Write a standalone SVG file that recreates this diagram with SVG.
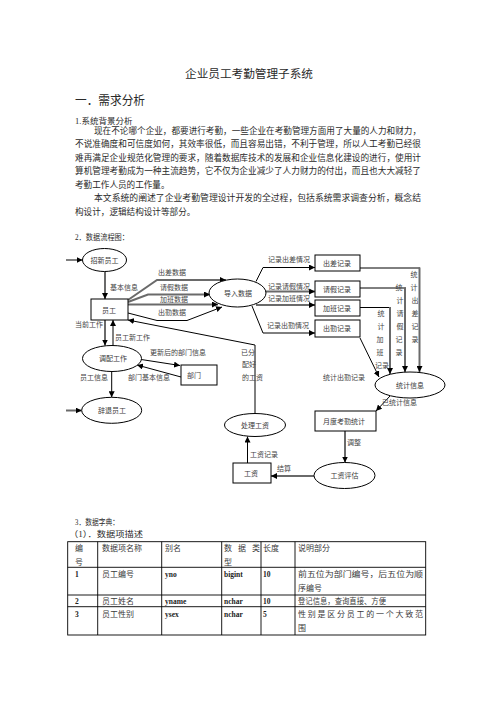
<svg xmlns="http://www.w3.org/2000/svg" width="496" height="702" viewBox="0 0 496 702">
<style>
text{font-family:"Liberation Serif","Noto Sans CJK SC",serif;fill:#2a2a2a}
.b{font-size:8.6px}
.n{font-size:7px;fill:#3a3a3a;text-anchor:middle}
.l{font-size:7px;fill:#444}
.v{font-size:7px;fill:#444;text-anchor:middle}
.t{font-size:8px;fill:#3a3a3a}
.tb{font-size:7.5px;font-weight:bold;fill:#222}
.s{fill:#fff;stroke:#000;stroke-width:1}
.k{fill:none;stroke:#000;stroke-width:1}
.g{fill:none;stroke:#6a6a6a;stroke-width:2}
.tl{stroke:#000;stroke-width:0.9;fill:none}
</style>
<defs>
<marker id="a" markerUnits="userSpaceOnUse" markerWidth="6" markerHeight="6" refX="6" refY="3" orient="auto">
<path d="M0,0 L6,3 L0,6 z" fill="#000"/>
</marker>
</defs>
<rect width="496" height="702" fill="#fff"/>

<text x="249" y="78" style="font-size:11.5px;text-anchor:middle" textLength="128" lengthAdjust="spacingAndGlyphs">企业员工考勤管理子系统</text>
<text x="75" y="104.5" style="font-size:12.5px" textLength="70" lengthAdjust="spacingAndGlyphs">一．需求分析</text>
<text x="75" y="123.5" style="font-size:8.5px">1.系统背景分析</text>
<text class="b" x="94" y="133.5" textLength="327" lengthAdjust="spacingAndGlyphs">现在不论哪个企业，都要进行考勤，一些企业在考勤管理方面用了大量的人力和财力，</text>
<text class="b" x="75" y="147" textLength="346" lengthAdjust="spacingAndGlyphs">不说准确度和可信度如何，其效率很低，而且容易出错，不利于管理，所以人工考勤已经很</text>
<text class="b" x="75" y="160.5" textLength="346" lengthAdjust="spacingAndGlyphs">难再满足企业规范化管理的要求，随着数据库技术的发展和企业信息化建设的进行，使用计</text>
<text class="b" x="75" y="174" textLength="346" lengthAdjust="spacingAndGlyphs">算机管理考勤成为一种主流趋势，它不仅为企业减少了人力财力的付出，而且也大大减轻了</text>
<text class="b" x="75" y="187.5">考勤工作人员的工作量。</text>
<text class="b" x="94" y="201" textLength="327" lengthAdjust="spacingAndGlyphs">本文系统的阐述了企业考勤管理设计开发的全过程，包括系统需求调查分析，概念结</text>
<text class="b" x="75" y="214.5">构设计，逻辑结构设计等部分。</text>
<text x="75" y="239.5" style="font-size:8.5px" textLength="54" lengthAdjust="spacingAndGlyphs">2．数据流程图：</text>

<g id="connectors">
<line class="k" x1="66" y1="260" x2="82.5" y2="260" marker-end="url(#a)"/>
<line class="g" x1="105" y1="271.5" x2="105" y2="299" marker-end="url(#a)"/>
<polyline class="g" points="128,300 157,280 226,280" marker-end="url(#a)"/>
<polyline class="g" points="128,302 148,294.5 210,294.5" marker-end="url(#a)"/>
<polyline class="g" points="128,304.5 218,304.5" marker-end="url(#a)"/>
<polyline class="k" points="128,313 157,320.5 187,320.5 222,307" marker-end="url(#a)"/>
<polyline class="k" points="256,281.5 263,267.5 315,267.5" marker-end="url(#a)"/>
<polyline class="g" points="265,291.5 315,291.5" marker-end="url(#a)"/>
<polyline class="g" points="256,305 315,305" marker-end="url(#a)"/>
<polyline class="k" points="252,306 263,333 315,333" marker-end="url(#a)"/>
<line class="k" x1="360" y1="268" x2="420" y2="268"/>
<line class="g" x1="419.5" y1="267.5" x2="419.5" y2="372" marker-end="url(#a)"/>
<line class="k" x1="360" y1="288" x2="406" y2="288"/>
<line class="g" x1="405" y1="287.5" x2="405" y2="372" marker-end="url(#a)"/>
<line class="k" x1="360" y1="307.5" x2="391" y2="307.5"/>
<line class="g" x1="390" y1="307" x2="390" y2="374" marker-end="url(#a)"/>
<line class="k" x1="360" y1="338" x2="379" y2="377" marker-end="url(#a)"/>
<line class="k" x1="390" y1="396" x2="376" y2="411" marker-end="url(#a)"/>
<line class="g" x1="345" y1="431" x2="345" y2="462.5" marker-end="url(#a)"/>
<line class="g" x1="314" y1="476" x2="271" y2="476" marker-end="url(#a)"/>
<line class="k" x1="247.5" y1="463" x2="247.5" y2="436.5" marker-end="url(#a)"/>
<polyline class="k" points="255,413.5 255,345 128,320" marker-end="url(#a)"/>
<line class="g" x1="105" y1="320" x2="105" y2="345.5" marker-end="url(#a)"/>
<line class="k" x1="113" y1="345.5" x2="113" y2="320" marker-end="url(#a)"/>
<line class="k" x1="138" y1="359" x2="180" y2="365.5" marker-end="url(#a)"/>
<line class="k" x1="181" y1="377" x2="137" y2="365" marker-end="url(#a)"/>
<line class="k" x1="111.7" y1="371.5" x2="111.7" y2="397.3" marker-end="url(#a)"/>
<line class="g" x1="66" y1="410.5" x2="81.7" y2="410.5" marker-end="url(#a)"/>

<text class="l" x="110" y="290.3">基本信息</text>
<text class="l" x="158" y="275.3">出差数据</text>
<text class="l" x="160" y="289.8">请假数据</text>
<text class="l" x="160" y="301.8">加班数据</text>
<text class="l" x="158" y="315.3">出勤数据</text>
<text class="l" x="268" y="262.3">记录出差情况</text>
<text class="l" x="268" y="288.8">记录请假情况</text>
<text class="l" x="268" y="301.3">记录加班情况</text>
<text class="l" x="267" y="328.3">记录出勤情况</text>
<text class="v" x="414"><tspan x="414" y="276.5">统</tspan><tspan x="414" y="289.5">计</tspan><tspan x="415" y="302.5">出</tspan><tspan x="415" y="315.5">差</tspan><tspan x="415" y="328.5">记</tspan><tspan x="415" y="341.5">录</tspan></text>
<text class="v" x="399"><tspan x="399" y="289.5">统</tspan><tspan x="400" y="302.5">计</tspan><tspan x="400" y="315.5">请</tspan><tspan x="400" y="328.5">假</tspan><tspan x="399" y="341.5">记</tspan><tspan x="399" y="354.5">录</tspan></text>
<text class="v" x="381"><tspan x="381" y="315.5">统</tspan><tspan x="381" y="328.5">计</tspan><tspan x="380" y="341.5">加</tspan><tspan x="380" y="354.5">班</tspan><tspan x="382" y="367.5">记录</tspan></text>
<text class="l" x="323" y="380.3">统计出勤记录</text>
<text class="l" x="382" y="405.3">已统计信息</text>
<text class="l" x="347" y="445.3">调整</text>
<text class="l" x="277" y="471.3">结算</text>
<text class="l" x="250" y="457.3">工资记录</text>
<text class="l" x="241" y="355.3">已分</text>
<text class="l" x="242" y="367.3">配好</text>
<text class="l" x="242" y="380.3">的工资</text>
<text class="l" x="75" y="327.3">当前工作</text>
<text class="l" x="115" y="340.3">员工新工作</text>
<text class="l" x="150" y="354.8">更新后的部门信息</text>
<text class="l" x="128" y="380.3">部门基本信息</text>
<text class="l" x="80" y="380.3">员工信息</text>
</g>

<g id="n-zhaoxin"><ellipse class="s" cx="104.5" cy="260" rx="22" ry="11.5"/><text class="n" x="104.5" y="262.5">招新员工</text></g>
<g id="n-yuangong"><rect class="s" x="91" y="299" width="37" height="21"/><text class="n" x="109" y="312.5">员工</text></g>
<g id="n-daoru"><ellipse class="s" cx="237.5" cy="293" rx="28.5" ry="14"/><text class="n" x="238" y="295.5">导入数据</text></g>
<g id="n-chuchai"><rect class="s" x="315" y="255" width="45" height="16"/><text class="n" x="337" y="265.5">出差记录</text></g>
<g id="n-qingjia"><rect class="s" x="315" y="281" width="45" height="16"/><text class="n" x="337" y="291.5">请假记录</text></g>
<g id="n-jiaban"><rect class="s" x="315" y="300" width="45" height="16"/><text class="n" x="337" y="310.5">加班记录</text></g>
<g id="n-chuqin"><rect class="s" x="315" y="320" width="45" height="17"/><text class="n" x="337" y="331">出勤记录</text></g>
<g id="n-tongji"><ellipse class="s" cx="410" cy="385" rx="35" ry="13"/><text class="n" x="410" y="387.5">统计信息</text></g>
<g id="n-yuedu"><rect class="s" x="315" y="411" width="61" height="20"/><text class="n" x="344" y="423.5">月度考勤统计</text></g>
<g id="n-pinggu"><ellipse class="s" cx="344.5" cy="475.5" rx="30.5" ry="13"/><text class="n" x="344.5" y="478">工资评估</text></g>
<g id="n-gongzi"><rect class="s" x="233" y="463" width="38" height="20"/><text class="n" x="251" y="475.5">工资</text></g>
<g id="n-chuli"><ellipse class="s" cx="255" cy="425" rx="30.5" ry="11.5"/><text class="n" x="255" y="427.5">处理工资</text></g>
<g id="n-bumen"><rect class="s" x="181" y="365" width="36" height="20"/><text class="l" x="187" y="377.5">部门</text></g>
<g id="n-diaopei"><ellipse class="s" cx="112" cy="358.5" rx="29.5" ry="13"/><text class="n" x="113" y="361">调配工作</text></g>
<g id="n-citui"><ellipse class="s" cx="111.7" cy="410.3" rx="30" ry="13"/><text class="n" x="112" y="412.8">辞退员工</text></g>

<text x="75" y="524.5" style="font-size:8.5px" textLength="44" lengthAdjust="spacingAndGlyphs">3．数据字典：</text>
<text x="69" y="537" style="font-size:8.5px" textLength="74" lengthAdjust="spacingAndGlyphs">（1）．数据项描述</text>

<g id="table">
<rect class="tl" x="67.7" y="541.7" width="358" height="93.3"/>
<line class="tl" x1="97.7" y1="541.7" x2="97.7" y2="635"/>
<line class="tl" x1="161.7" y1="541.7" x2="161.7" y2="635"/>
<line class="tl" x1="221.7" y1="541.7" x2="221.7" y2="635"/>
<line class="tl" x1="261" y1="541.7" x2="261" y2="635"/>
<line class="tl" x1="295" y1="541.7" x2="295" y2="635"/>
<line class="tl" x1="67.7" y1="567.3" x2="425.7" y2="567.3"/>
<line class="tl" x1="67.7" y1="595" x2="425.7" y2="595"/>
<line class="tl" x1="67.7" y1="606.7" x2="425.7" y2="606.7"/>

<text class="t" x="75" y="551">编</text>
<text class="t" x="75" y="565">号</text>
<text class="t" x="102" y="551">数据项名称</text>
<text class="t" x="165" y="551">别名</text>
<text class="t" x="224" y="551" textLength="36" lengthAdjust="spacing">数据类</text>
<text class="t" x="224" y="565">型</text>
<text class="t" x="263" y="551">长度</text>
<text class="t" x="298" y="551">说明部分</text>

<text class="tb" x="75" y="577">1</text>
<text class="t" x="102" y="577">员工编号</text>
<text class="tb" x="165" y="577">yno</text>
<text class="tb" x="224" y="577">bigint</text>
<text class="tb" x="263" y="577">10</text>
<text class="t" x="298" y="577" textLength="125" lengthAdjust="spacingAndGlyphs">前五位为部门编号，后五位为顺</text>
<text class="t" x="298" y="591">序编号</text>

<text class="tb" x="75" y="603.5">2</text>
<text class="t" x="102" y="603.5">员工姓名</text>
<text class="tb" x="165" y="603.5">yname</text>
<text class="tb" x="224" y="603.5">nchar</text>
<text class="tb" x="263" y="603.5">10</text>
<text class="t" x="298" y="603.5" textLength="88" lengthAdjust="spacingAndGlyphs">登记信息，查询直接、方便</text>

<text class="tb" x="75" y="616.5">3</text>
<text class="t" x="102" y="616.5">员工性别</text>
<text class="tb" x="165" y="616.5">ysex</text>
<text class="tb" x="224" y="616.5">nchar</text>
<text class="tb" x="263" y="616.5">5</text>
<text class="t" x="298" y="616.5" textLength="125" lengthAdjust="spacing">性别是区分员工的一个大致范</text>
<text class="t" x="298" y="630.5">围</text>
</g>
</svg>
